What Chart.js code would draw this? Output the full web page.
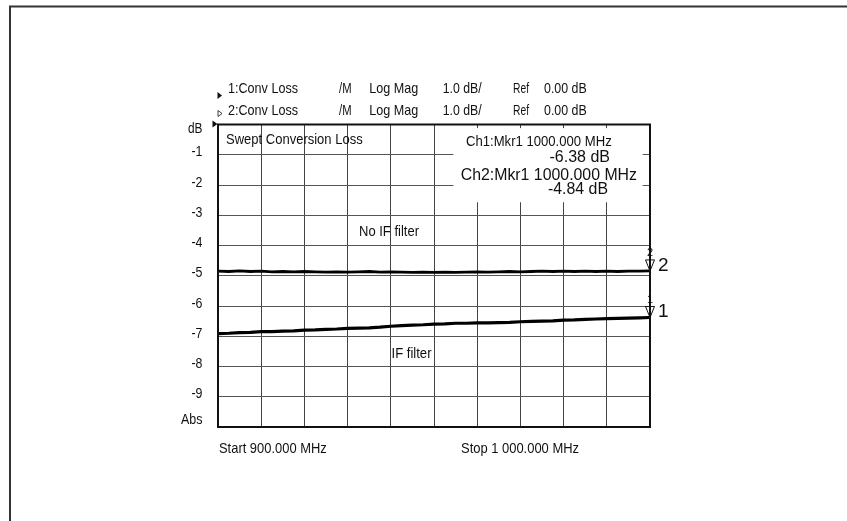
<!DOCTYPE html>
<html>
<head>
<meta charset="utf-8">
<style>
html,body{margin:0;padding:0;background:#fff;}
#wrap{width:847px;height:521px;}
</style>
<script src="https://cdn.jsdelivr.net/npm/chart.js@4.4.0/dist/chart.umd.min.js"></script>
</head>
<body>
<div id="wrap"><canvas id="c" width="847" height="521"></canvas></div>
<script>
// Frequency points (MHz)
const freqs = [900,902.5,905,907.5,910,912.5,915,917.5,920,922.5,925,927.5,930,932.5,935,937.5,940,942.5,945,947.5,950,952.5,955,957.5,960,962.5,965,967.5,970,972.5,975,977.5,980,982.5,985,987.5,990,992.5,995,997.5,1000];
// Ch1: with IF filter (dB)
const ifFilter = [-6.91,-6.90,-6.88,-6.87,-6.85,-6.85,-6.83,-6.82,-6.80,-6.79,-6.77,-6.76,-6.74,-6.73,-6.72,-6.70,-6.67,-6.65,-6.63,-6.62,-6.60,-6.59,-6.57,-6.57,-6.56,-6.56,-6.55,-6.54,-6.52,-6.51,-6.50,-6.49,-6.47,-6.46,-6.44,-6.43,-6.42,-6.41,-6.40,-6.39,-6.38];
// Ch2: no IF filter (dB)
const noIfFilter = [-4.85,-4.86,-4.84,-4.86,-4.85,-4.87,-4.86,-4.87,-4.86,-4.87,-4.88,-4.87,-4.88,-4.87,-4.86,-4.88,-4.87,-4.88,-4.89,-4.88,-4.89,-4.88,-4.89,-4.88,-4.87,-4.88,-4.87,-4.86,-4.87,-4.86,-4.85,-4.86,-4.85,-4.86,-4.85,-4.86,-4.85,-4.86,-4.85,-4.85,-4.84];
// Y tick labels
const yTickValues = [0,-1,-2,-3,-4,-5,-6,-7,-8,-9,-10];
const yTickLabels = ['dB','-1','-2','-3','-4','-5','-6','-7','-8','-9','Abs'];

const FONT = '"Liberation Sans", Arial, sans-serif';

function txt(ctx, s, x, y, size, w, align){
  ctx.font = size + 'px ' + FONT;
  ctx.textAlign = align || 'left';
  ctx.textBaseline = 'middle';
  ctx.fillText(s, x, y, w);
}

const decor = {
  id: 'decor',
  beforeDatasetsDraw(chart){
    const ctx = chart.ctx;
    const xs = chart.scales.x, ys = chart.scales.y;
    ctx.save();
    // white panel behind marker readout
    const x0 = xs.getPixelForValue(954.5), x1 = xs.getPixelForValue(998.3);
    const y0 = ys.getPixelForValue(-0.12), y1 = ys.getPixelForValue(-2.57);
    ctx.fillStyle = '#fff';
    ctx.fillRect(x0, y0, x1 - x0, y1 - y0);
    ctx.restore();
  },
  afterDraw(chart){
    const ctx = chart.ctx, a = chart.chartArea;
    const xs = chart.scales.x, ys = chart.scales.y;
    ctx.save();
    // outer page frame
    ctx.strokeStyle = '#333';
    ctx.lineWidth = 2;
    ctx.beginPath();
    ctx.moveTo(10, 530); ctx.lineTo(10, 6.5); ctx.lineTo(860, 6.5);
    ctx.stroke();
    // plot box
    ctx.strokeStyle = '#111';
    ctx.lineWidth = 2;
    ctx.strokeRect(a.left, a.top, a.right - a.left, a.bottom - a.top);

    ctx.fillStyle = '#111';
    const FS = 15;
    // header rows
    txt(ctx, '1:Conv Loss', 228, 89, FS, 70);
    txt(ctx, '2:Conv Loss', 228, 110.5, FS, 70);
    txt(ctx, '/M', 339, 89, FS, 12.5);
    txt(ctx, '/M', 339, 110.5, FS, 12.5);
    txt(ctx, 'Log Mag', 369.3, 89, FS, 49);
    txt(ctx, 'Log Mag', 369.3, 110.5, FS, 49);
    txt(ctx, '1.0 dB/', 442.7, 89, FS, 39);
    txt(ctx, '1.0 dB/', 442.7, 110.5, FS, 39);
    txt(ctx, 'Ref', 513, 89, FS, 16);
    txt(ctx, 'Ref', 513, 110.5, FS, 16);
    txt(ctx, '0.00 dB', 544, 89, FS, 42.7);
    txt(ctx, '0.00 dB', 544, 110.5, FS, 42.7);
    // channel indicator triangles
    ctx.beginPath();
    ctx.moveTo(217.5, 92); ctx.lineTo(222, 95.5); ctx.lineTo(217.5, 99); ctx.closePath();
    ctx.fill();
    ctx.lineWidth = 0.8;
    ctx.strokeStyle = '#111';
    ctx.beginPath();
    ctx.moveTo(218, 110.5); ctx.lineTo(222, 113.5); ctx.lineTo(218, 116.5); ctx.closePath();
    ctx.stroke();
    const yRef = ys.getPixelForValue(0);
    ctx.beginPath();
    ctx.moveTo(212.5, yRef - 4); ctx.lineTo(217.5, yRef - 0.5); ctx.lineTo(212.5, yRef + 3); ctx.closePath();
    ctx.fill();

    // y tick labels
    yTickValues.forEach((v, i) => {
      const lab = yTickLabels[i];
      let yy = ys.getPixelForValue(v) - 2.5;
      let w = 11;
      if (lab === 'dB') { yy = ys.getPixelForValue(v) + 4.5; w = 14.5; }
      if (lab === 'Abs') { yy = ys.getPixelForValue(v) - 7; w = 21.5; }
      txt(ctx, lab, 202.5, yy, FS, w, 'right');
    });

    // annotations
    txt(ctx, 'Swept Conversion Loss', 226, 140, FS, 136.7);
    txt(ctx, 'Ch1:Mkr1 1000.000 MHz', 466, 141.7, FS, 145.7);
    txt(ctx, '-6.38 dB', 610, 157.3, 16, 61, 'right');
    txt(ctx, 'Ch2:Mkr1 1000.000 MHz', 460.7, 175, 17, 176.3);
    txt(ctx, '-4.84 dB', 608, 189.5, 16, 60, 'right');
    txt(ctx, 'No IF filter', 359, 232, FS, 60);
    txt(ctx, 'IF filter', 391.5, 354, FS, 40);
    txt(ctx, 'Start 900.000 MHz', 219, 448.5, FS, 107.7);
    txt(ctx, 'Stop 1 000.000 MHz', 461, 449, FS, 118);

    // markers at stop frequency
    const xm = xs.getPixelForValue(freqs[freqs.length - 1]);
    const marks = [
      {v: noIfFilter[noIfFilter.length - 1], n: '2'},
      {v: ifFilter[ifFilter.length - 1], n: '1'}
    ];
    marks.forEach(m => {
      const yp = ys.getPixelForValue(m.v);
      ctx.strokeStyle = '#111';
      ctx.lineWidth = 1;
      ctx.beginPath();
      ctx.moveTo(xm, yp); ctx.lineTo(xm - 4.5, yp - 11); ctx.lineTo(xm + 4.5, yp - 11); ctx.closePath();
      ctx.stroke();
      ctx.fillStyle = '#111';
      txt(ctx, m.n, xm, yp - 18, 11, 7, 'center');
      txt(ctx, m.n, xm + 8, yp - 5.5, 19, 11);
    });
    ctx.restore();
  }
};

new Chart(document.getElementById('c'), {
  type: 'line',
  data: {
    datasets: [
      {
        label: 'No IF filter',
        data: freqs.map((f, i) => ({x: f, y: noIfFilter[i]})),
        borderColor: '#000',
        borderWidth: 2.8,
        pointRadius: 0,
        tension: 0
      },
      {
        label: 'IF filter',
        data: freqs.map((f, i) => ({x: f, y: ifFilter[i]})),
        borderColor: '#000',
        borderWidth: 3.2,
        pointRadius: 0,
        tension: 0
      }
    ]
  },
  options: {
    responsive: false,
    devicePixelRatio: 1,
    animation: false,
    events: [],
    layout: {padding: {left: 218, right: 197, top: 124.5, bottom: 94}},
    plugins: {legend: {display: false}, tooltip: {enabled: false}, title: {display: false}},
    scales: {
      x: {
        type: 'linear', min: 900, max: 1000,
        ticks: {display: false, stepSize: 10},
        grid: {color: '#444', lineWidth: 1, drawTicks: false},
        border: {display: false}
      },
      y: {
        type: 'linear', min: -10, max: 0,
        ticks: {display: false, stepSize: 1},
        grid: {color: '#555', lineWidth: 1, drawTicks: false},
        border: {display: false}
      }
    }
  },
  plugins: [decor]
});
</script>
</body>
</html>
